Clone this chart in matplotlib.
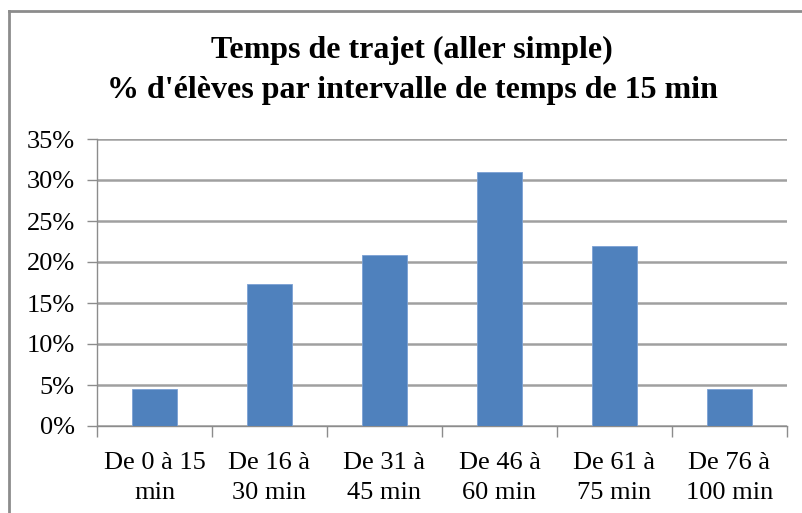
import matplotlib
matplotlib.use("Agg")
import matplotlib.pyplot as plt
from matplotlib.lines import Line2D
from matplotlib.ticker import FuncFormatter, MultipleLocator

categories = ["De 0 à 15\nmin", "De 16 à\n30 min", "De 31 à\n45 min",
              "De 46 à\n60 min", "De 61 à\n75 min", "De 76 à\n100 min"]
values = [4.5, 17.3, 20.9, 31.0, 21.9, 4.5]
title_lines = ["Temps de trajet (aller simple)", "% d'élèves par intervalle de temps de 15 min"]

W, H = 803, 513
fig = plt.figure(figsize=(W / 100, H / 100), dpi=100)
plt.rcParams['font.family'] = ['Liberation Serif', 'DejaVu Serif']

# plot area in pixels: x 97-787, y 139-426
L, R, T, B = 97, 787, 139, 426
ax = fig.add_axes([L / W, 1 - B / H, (R - L) / W, (B - T) / H])

x = list(range(len(categories)))
ax.bar(x, values, width=0.39, color="#4F81BD", edgecolor="#7BA0D4", linewidth=0.6, zorder=3)
ax.set_xlim(-0.5, len(categories) - 0.5)
ax.set_ylim(0, 35)
ax.yaxis.set_major_locator(MultipleLocator(5))
ax.yaxis.set_major_formatter(FuncFormatter(lambda v, p: f"{v:.0f}%"))
ax.grid(axis="y", color="#A0A0A0", linewidth=1.8, zorder=0)
ax.set_axisbelow(True)

ax.set_xticks([i - 0.5 for i in range(len(categories) + 1)])
ax.set_xticklabels([])
ax.set_xticks(x, minor=True)
ax.set_xticklabels(categories, minor=True, fontsize=19, linespacing=1.42)
ax.tick_params(axis="x", which="minor", length=0, pad=19)
ax.tick_params(axis="x", which="major", length=8, width=1, color="#8C8C8C", direction="out")
ax.tick_params(axis="y", length=7, width=1, color="#8C8C8C", labelsize=19, pad=9)

for s in ["top", "right"]:
    ax.spines[s].set_visible(False)
for s in ["left", "bottom"]:
    ax.spines[s].set_color("#8C8C8C")
    ax.spines[s].set_linewidth(1)

fig.text(412 / W, 1 - 50 / H, title_lines[0], ha="center", va="center",
         fontsize=23, fontweight="bold")
fig.text(412 / W, 1 - 91 / H, title_lines[1], ha="center", va="center",
         fontsize=23, fontweight="bold")

# chart border (left and top visible)
fig.add_artist(Line2D([8.5 / W, 8.5 / W], [0, 1 - 11 / H], transform=fig.transFigure,
                      color="#8C8C8C", linewidth=2))
fig.add_artist(Line2D([8.5 / W, 1], [1 - 11 / H, 1 - 11 / H], transform=fig.transFigure,
                      color="#8C8C8C", linewidth=2))

fig.savefig("out.png", dpi=100)
